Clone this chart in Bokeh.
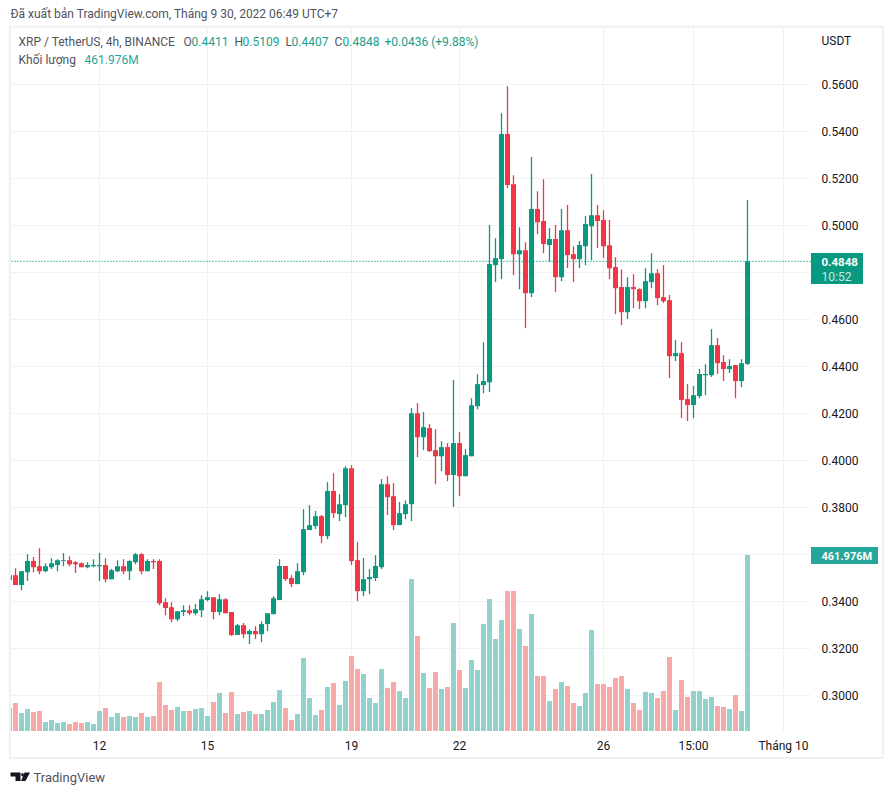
from bokeh.plotting import figure
from bokeh.models import (ColumnDataSource, FixedTicker, NumeralTickFormatter, Label,
                          BoxAnnotation, PolyAnnotation, Range1d)
from bokeh.embed import file_html
from bokeh.resources import INLINE

opens = [.3491,.3512,.3470,.3525,.3572,.3550,.3529,.3546,.3555,.3572,.3576,.3567,.3563,.3546,.3550,.3550,.3555,.3495,.3529,.3550,
         .3529,.3567,.3601,.3529,.3572,.3572,.3397,.3376,.3325,.3355,.3363,.3350,.3363,.3406,.3418,.3355,.3410,.3355,.3257,.3299,
         .3261,.3274,.3261,.3304,.3346,.3406,.3551,.3500,.3474,.3525,.3704,.3721,.3763,.3678,.3870,.3772,.3810,.3967,.3576,.3444,
         .3495,.3500,.3546,.3899,.3848,.3725,.3772,.3814,.4201,.4099,.4138,.4044,.4018,.4057,.3938,.4074,.3933,.4018,.4231,.4321,
         .4333,.4831,.4857,.5389,.5176,.4878,.4895,.4712,.5070,.5019,.4917,.4942,.4780,.4980,.4878,.4857,.4912,.4997,.5044,.5023,
         .4916,.4823,.4738,.4631,.4738,.4729,.4678,.4759,.4797,.4695,.4682,.4444,.4457,.4261,.4236,.4274,.4363,.4363,.4491,.4419,
         .4389,.4406,.4338,.4411]
highs = [.3520,.3542,.3529,.3601,.3589,.3627,.3563,.3584,.3580,.3606,.3593,.3572,.3567,.3567,.3580,.3606,.3584,.3538,.3576,.3580,
         .3576,.3606,.3606,.3580,.3580,.3580,.3414,.3397,.3359,.3384,.3384,.3389,.3427,.3444,.3418,.3431,.3414,.3355,.3304,.3308,
         .3282,.3295,.3316,.3350,.3423,.3580,.3551,.3512,.3563,.3793,.3810,.3785,.3768,.3908,.3946,.3857,.3976,.3980,.3653,.3585,
         .3538,.3597,.3921,.3933,.3904,.3823,.3831,.4223,.4244,.4206,.4155,.4133,.4082,.4074,.4342,.4121,.4048,.4265,.4367,.4503,
         .5002,.4946,.5478,.5593,.5214,.4993,.4929,.5291,.5146,.5197,.4989,.5002,.5070,.5087,.4912,.4934,.5040,.5219,.5087,.5065,
         .5023,.4865,.4814,.4780,.4793,.4733,.4818,.4882,.4814,.4831,.4704,.4512,.4504,.4325,.4317,.4389,.4410,.4559,.4521,.4448,
         .4431,.4406,.4431,.5109]
lows = [.3480,.3470,.3448,.3487,.3525,.3516,.3525,.3538,.3529,.3550,.3550,.3521,.3546,.3542,.3546,.3487,.3482,.3495,.3525,.3516,
        .3491,.3559,.3516,.3529,.3538,.3384,.3342,.3312,.3316,.3338,.3342,.3342,.3333,.3401,.3325,.3342,.3350,.3253,.3257,.3244,
        .3219,.3240,.3227,.3274,.3346,.3406,.3487,.3461,.3474,.3512,.3704,.3708,.3648,.3665,.3755,.3742,.3759,.3555,.3402,.3423,
        .3431,.3487,.3538,.3768,.3704,.3725,.3750,.3742,.4014,.4044,.4036,.3899,.3955,.3912,.3802,.3848,.3933,.4018,.4218,.4286,
        .4291,.4759,.4772,.5159,.4789,.4729,.4563,.4695,.4963,.4882,.4844,.4717,.4763,.4819,.4759,.4819,.4831,.4853,.4904,.4861,
        .4772,.4623,.4576,.4602,.4648,.4644,.4648,.4733,.4661,.4670,.4351,.4423,.4180,.4168,.4180,.4265,.4278,.4355,.4368,.4338,
        .4372,.4265,.4312,.4407]
closes = [.3512,.3470,.3529,.3572,.3546,.3529,.3550,.3563,.3576,.3576,.3559,.3559,.3546,.3555,.3555,.3555,.3495,.3533,.3550,.3529,
          .3572,.3601,.3529,.3572,.3567,.3393,.3372,.3325,.3359,.3363,.3350,.3367,.3410,.3418,.3355,.3410,.3350,.3257,.3299,.3261,
          .3274,.3261,.3304,.3350,.3414,.3551,.3495,.3474,.3529,.3708,.3725,.3763,.3678,.3870,.3776,.3814,.3967,.3572,.3444,.3495,
          .3504,.3551,.3899,.3844,.3725,.3776,.3814,.4201,.4099,.4142,.4040,.4018,.4057,.3938,.4074,.3933,.4023,.4235,.4325,.4338,
          .4836,.4861,.5389,.5172,.4878,.4895,.4712,.5070,.5014,.4921,.4942,.4780,.4980,.4874,.4857,.4917,.5006,.5044,.5019,.4912,
          .4818,.4733,.4631,.4738,.4729,.4678,.4763,.4797,.4691,.4678,.4444,.4457,.4257,.4236,.4278,.4368,.4368,.4491,.4414,.4389,
          .4402,.4338,.4414,.4848]
volumes = [60.4,73.5,47.3,57.8,49.9,52.5,23.6,28.9,21.0,23.6,18.4,23.6,21.0,23.6,18.4,52.5,60.4,36.8,47.3,36.8,
           39.4,36.8,47.3,36.8,39.4,128.6,68.3,55.1,63.0,52.5,52.5,57.8,60.4,39.4,76.1,99.8,47.3,102.4,44.6,49.9,
           52.5,44.6,44.6,55.1,76.1,107.6,60.4,28.9,44.6,191.6,86.6,42.0,55.1,115.5,126.0,68.3,131.3,196.9,162.8,149.6,
           86.6,73.5,162.8,112.9,128.6,105.0,86.6,399.0,249.4,152.3,112.9,154.9,110.3,115.5,283.5,160.1,112.9,186.4,160.1,280.9,
           346.5,241.5,291.4,367.5,367.5,267.8,223.1,307.1,144.4,144.4,78.8,110.3,128.6,118.1,73.5,65.6,99.8,265.1,123.4,123.4,
           115.5,139.1,144.4,110.3,73.5,55.1,102.4,99.8,86.6,105.0,194.3,55.1,133.9,89.3,105.0,105.0,84.0,89.3,65.6,63.0,
           57.8,94.5,52.5,461.976]
price_ticks = [.30,.32,.34,.36,.38,.40,.42,.44,.46,.48,.50,.52,.54,.56]
time_tick_positions = [15,33,57,75,99,114,129]
time_tick_labels = ["12","15","19","22","26","15:00","Tháng 10"]
last_price = 0.4847

UP, DOWN = "#089981", "#f23645"
VUP, VDOWN = "#92d2cc", "#f7a9a7"
GRID = "#f0f1f5"
INK = "#131722"
MUTED = "#50535e"
LEGEND_UP = "#1a9e8a"
VOL_T = "#26a69a"
FONT = "Roboto"

# pane limits, in data units
PANE_L, PANE_R, PANE_B, PANE_T = 0.333, 133.5, 0.28468, 0.58426

idx = list(range(len(opens)))
src = ColumnDataSource(dict(i=idx, o=opens, h=highs, l=lows, c=closes, v=volumes,
                            top=[max(a, b) for a, b in zip(opens, closes)],
                            bot=[min(a, b) for a, b in zip(opens, closes)],
                            col=[UP if c >= o else DOWN for o, c in zip(opens, closes)],
                            vcol=[VUP if c >= o else VDOWN for o, c in zip(opens, closes)]))

W, H = 885, 786
p = figure(width=W, height=H, output_backend="svg", toolbar_location=None,
           x_range=Range1d(-1.5, 146.0), y_range=Range1d(0.26128, 0.59574),
           x_axis_location="below", y_axis_location="right",
           min_border_left=0, min_border_right=0, min_border_top=0, min_border_bottom=0)
p.outline_line_color = None
p.background_fill_color = "white"
p.border_fill_color = "white"
p.extra_y_ranges = {"vol": Range1d(-145.68, 1917.5)}
p.grid.visible = False

p.xaxis.ticker = FixedTicker(ticks=time_tick_positions)
p.xaxis.major_label_overrides = dict(zip(time_tick_positions, time_tick_labels))
p.yaxis.ticker = FixedTicker(ticks=price_ticks)
p.yaxis.formatter = NumeralTickFormatter(format="0.0000")
p.xaxis.fixed_location = PANE_B
p.yaxis.fixed_location = PANE_R
for ax in (p.xaxis[0], p.yaxis[0]):
    ax.axis_line_color = None
    ax.major_tick_line_color = None
    ax.minor_tick_line_color = None
    ax.major_tick_in = 0
    ax.major_tick_out = 0
    ax.major_label_text_color = INK
    ax.major_label_text_font = FONT
    ax.major_label_text_font_size = "12px"
p.yaxis.major_label_standoff = 11
p.xaxis.major_label_standoff = 7

# grid lines limited to the pane
p.segment(x0=[PANE_L] * len(price_ticks), x1=[PANE_R] * len(price_ticks), y0=price_ticks, y1=price_ticks,
          line_color=GRID, line_width=1)
p.segment(x0=time_tick_positions, x1=time_tick_positions, y0=[PANE_B] * len(time_tick_positions),
          y1=[PANE_T] * len(time_tick_positions), line_color=GRID, line_width=1)

p.vbar(x="i", bottom=0, top="v", width=5/6, color="vcol", line_color=None, source=src, y_range_name="vol")
p.segment(x0="i", x1="i", y0="l", y1="h", line_color="col", line_width=1.3, source=src)
p.vbar(x="i", bottom="bot", top="top", width=5/6, fill_color="col", line_color=None, source=src)

dotted = p.segment(x0=[PANE_L], x1=[PANE_R], y0=[last_price], y1=[last_price], line_color=UP, line_width=1.3)
dotted.glyph.line_dash = [1, 2]

def box(left, right, top, bottom, **kw):
    p.add_layout(BoxAnnotation(left=left, right=right, top=top, bottom=bottom, left_units="canvas",
                               right_units="canvas", top_units="canvas", bottom_units="canvas", **kw))

# white mask for what falls left of the pane, then the widget frame
box(0, 10.2, 27, 731, fill_color="white", fill_alpha=1, line_color=None)
box(9.3, 882.5, 26.2, 757.5, fill_color=None, fill_alpha=0, line_color="#eff0f6", line_alpha=1, line_width=2)
# price tags
box(810.5, 862.5, 252.5, 283.5, fill_color=UP, fill_alpha=1, line_color=None)
box(810.5, 877.5, 546.5, 563.5, fill_color="#26a69a", fill_alpha=1, line_color=None)

def txt(x, y, s, color=INK, size="12px", style="normal", alpha=1.0):
    p.add_layout(Label(x=x, y=y, x_units="canvas", y_units="canvas", text=s, text_color=color,
                       text_font=FONT, text_font_size=size, text_font_style=style,
                       text_baseline="middle", text_alpha=alpha))

txt(10, 13.5, "Đã xuất bản TradingView.com, Tháng 9 30, 2022 06:49 UTC+7", MUTED, "12px")
txt(18, 41, "XRP / TetherUS, 4h, BINANCE", MUTED, "12px")
for x, s in [(183, "O"), (234, "H"), (285, "L"), (334, "C")]:
    txt(x, 41, s, MUTED, "12px")
for x, s in [(191, "0.4411"), (242, "0.5109"), (291, "0.4407"), (342, "0.4848"), (384, "+0.0436 (+9.88%)")]:
    txt(x, 41, s, LEGEND_UP, "12px")
txt(18, 59, "Khối lượng", MUTED, "12px")
txt(84, 59, "461.976M", VOL_T, "12px")
txt(821, 40, "USDT", INK, "12px")
txt(821, 261, "0.4848", "white", "11.5px", "bold")
txt(821, 276, "10:52", "white", "12px", "normal", 0.8)
txt(821, 555.5, "461.976M", "white", "11px", "bold")
txt(33, 776.5, "TradingView", MUTED, "13px")

# TradingView mark
for xs, ys in [([10, 20, 20, 15, 15, 10], [772, 772, 780.5, 780.5, 776, 776]),
               ([20.7, 22, 23.3, 23.3, 22, 20.7], [773.3, 772.4, 773.3, 775, 775.9, 775]),
               ([24, 29.5, 25, 20.5], [772, 772, 780.5, 780.5])]:
    p.add_layout(PolyAnnotation(xs=xs, ys=ys, xs_units="canvas", ys_units="canvas",
                                fill_color="#131722", fill_alpha=1, line_color=None))

open("out.html", "w").write(file_html(p, INLINE))
